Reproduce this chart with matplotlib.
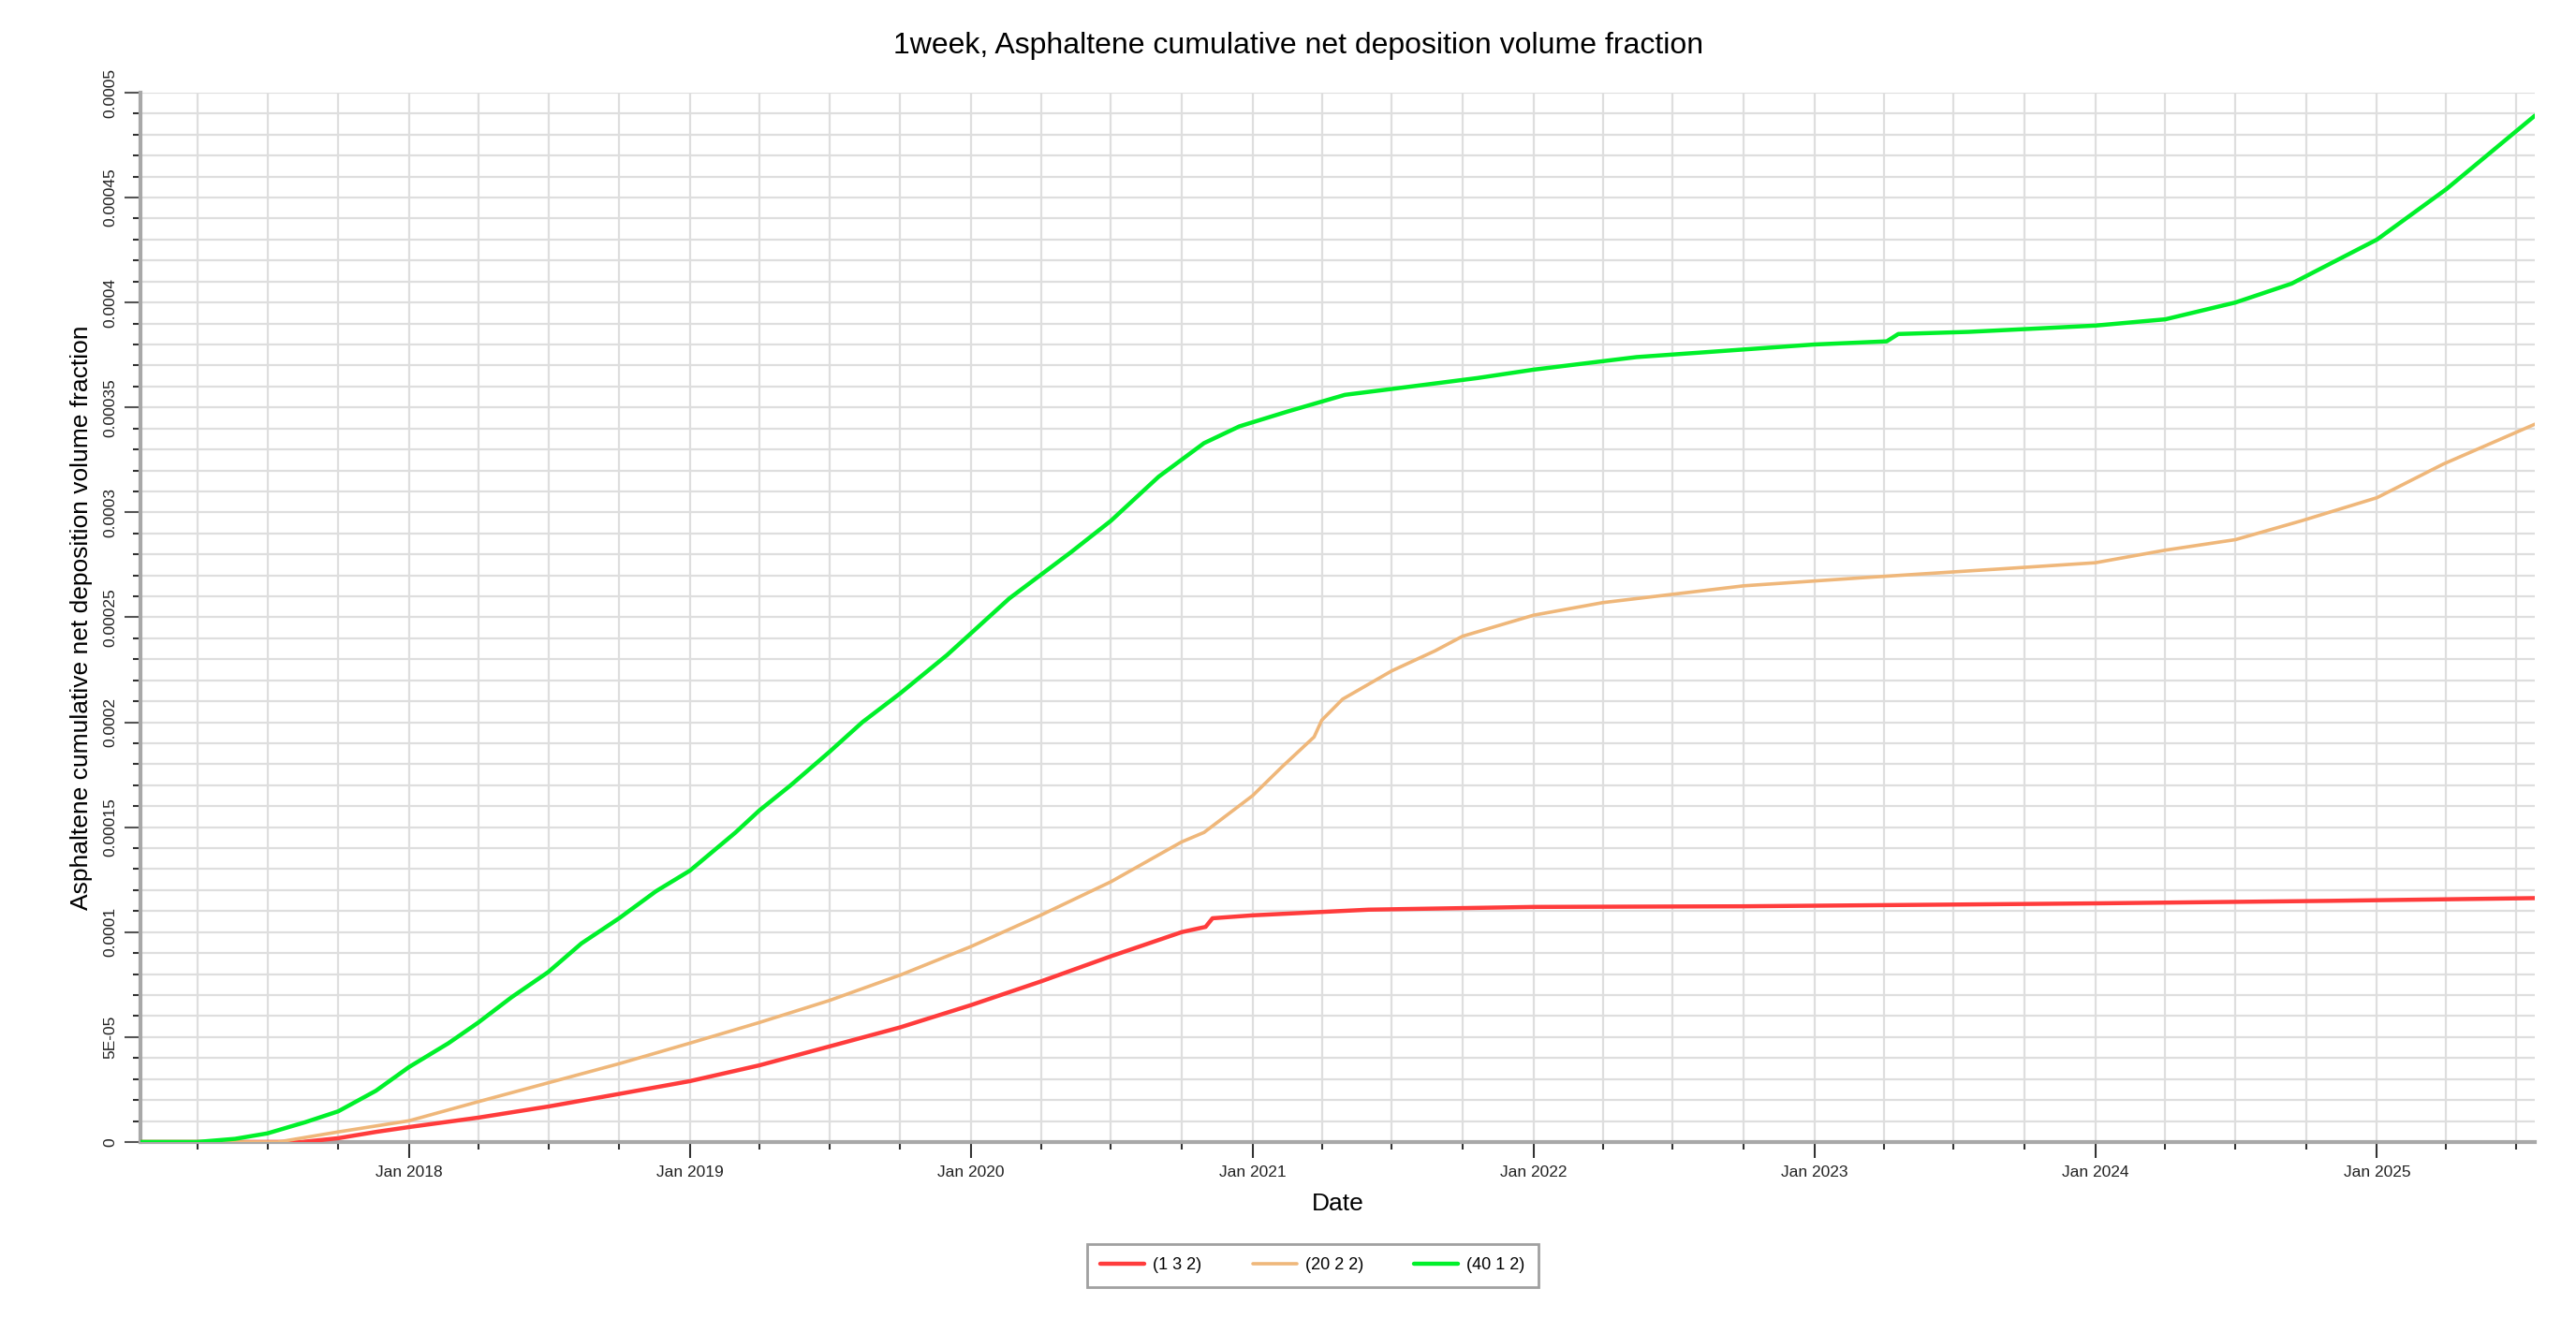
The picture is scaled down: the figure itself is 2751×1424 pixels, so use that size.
import numpy as np
import pandas as pd
import matplotlib
matplotlib.use("Agg")
import matplotlib.pyplot as plt
import matplotlib.dates as mdates
from matplotlib.ticker import MultipleLocator, FixedLocator, FixedFormatter

plt.rcParams['font.family'] = ['Liberation Sans', 'DejaVu Sans']

# values in units of 1E-05
green_dates = ["2017-01-17", "2017-04-01", "2017-05-20", "2017-07-01", "2017-08-19", "2017-10-01",
               "2017-11-19", "2018-01-01", "2018-02-21", "2018-04-01", "2018-05-14", "2018-07-01",
               "2018-08-13", "2018-10-01", "2018-11-18", "2019-01-01", "2019-03-01", "2019-04-01",
               "2019-05-12", "2019-07-01", "2019-08-13", "2019-10-01", "2019-12-01", "2020-02-20",
               "2020-05-10", "2020-07-01", "2020-09-01", "2020-10-30", "2020-12-15", "2021-02-15",
               "2021-05-01", "2021-07-05", "2021-10-20", "2022-01-01", "2022-05-15", "2023-01-01",
               "2023-04-05", "2023-04-20", "2023-07-20", "2024-01-01", "2024-04-01", "2024-07-01",
               "2024-09-12", "2025-01-01", "2025-04-01", "2025-07-25"]
green_vals = [0, 0, 0.15, 0.41, 0.94, 1.46,
              2.44, 3.57, 4.7, 5.69, 6.89, 8.1,
              9.46, 10.66, 11.95, 12.93, 14.74, 15.79,
              17.0, 18.58, 20.0, 21.37, 23.2, 25.9,
              28.1, 29.6, 31.7, 33.3, 34.1, 34.8,
              35.6, 35.9, 36.4, 36.8, 37.4, 38.0,
              38.15, 38.5, 38.6, 38.9, 39.2, 40.0,
              40.9, 43.0, 45.4, 48.9]

orange_dates = ["2017-01-17", "2017-07-15", "2017-10-01", "2018-01-01", "2018-04-01", "2018-07-01",
                "2018-10-01", "2019-01-01", "2019-04-01", "2019-07-01", "2019-10-01", "2020-01-01",
                "2020-04-01", "2020-07-01", "2020-10-01", "2020-10-30", "2021-01-01", "2021-02-09",
                "2021-03-22", "2021-04-01", "2021-04-28", "2021-07-01", "2021-08-26", "2021-10-01",
                "2022-01-01", "2022-04-01", "2022-10-01", "2023-03-10", "2023-08-28", "2024-01-01",
                "2024-04-01", "2024-07-01", "2024-09-25", "2025-01-01", "2025-03-28", "2025-07-25"]
orange_vals = [0, 0, 0.48, 1.01, 1.92, 2.82,
               3.73, 4.71, 5.69, 6.74, 7.95, 9.31,
               10.81, 12.4, 14.3, 14.75, 16.5, 17.9,
               19.3, 20.1, 21.1, 22.45, 23.4, 24.1,
               25.1, 25.7, 26.5, 26.9, 27.3, 27.6,
               28.2, 28.7, 29.6, 30.7, 32.3, 34.2]

red_dates = ["2017-01-17", "2017-08-15", "2017-10-01", "2017-11-19", "2018-01-01", "2018-04-01",
             "2018-07-01", "2018-10-01", "2019-01-01", "2019-04-01", "2019-07-01", "2019-10-01",
             "2020-01-01", "2020-04-01", "2020-07-01", "2020-10-01", "2020-11-01", "2020-11-10",
             "2021-01-01", "2021-06-01", "2022-01-01", "2022-10-01", "2024-01-01", "2024-11-01",
             "2025-07-25"]
red_vals = [0, 0, 0.18, 0.48, 0.71, 1.16,
            1.69, 2.29, 2.9, 3.65, 4.55, 5.46,
            6.52, 7.65, 8.85, 10.0, 10.25, 10.66,
            10.8, 11.07, 11.2, 11.23, 11.37, 11.49,
            11.62]

labels = ["(1 3 2)", "(20 2 2)", "(40 1 2)"]
colors = ["#ff3c3c", "#efb77a", "#00f02a"]

ytick_vals = [0, 5e-05, 0.0001, 0.00015, 0.0002, 0.00025, 0.0003, 0.00035, 0.0004, 0.00045, 0.0005]
ytick_labels = ["0", "5E-05", "0.0001", "0.00015", "0.0002", "0.00025", "0.0003",
                "0.00035", "0.0004", "0.00045", "0.0005"]

fig = plt.figure(figsize=(27.51, 14.24), dpi=100)
ax = fig.add_axes([0.0545, 0.1433, 0.9295, 0.7872])

series = [(red_dates, red_vals), (orange_dates, orange_vals), (green_dates, green_vals)]
for (d, v), lab, c in zip(series, labels, colors):
    ax.plot(pd.to_datetime(d), np.array(v) * 1e-5, color=c, lw=3.2 if c != colors[1] else 2.6,
            label=lab, solid_capstyle='round', zorder=3)

ax.set_xlim(pd.Timestamp("2017-01-17"), pd.Timestamp("2025-07-25"))
ax.set_ylim(0, 0.0005)

ax.xaxis.set_major_locator(mdates.YearLocator())
ax.xaxis.set_major_formatter(mdates.DateFormatter("Jan %Y"))
ax.xaxis.set_minor_locator(mdates.MonthLocator(bymonth=[4, 7, 10]))
ax.yaxis.set_major_locator(FixedLocator(ytick_vals))
ax.yaxis.set_major_formatter(FixedFormatter(ytick_labels))
ax.yaxis.set_minor_locator(MultipleLocator(1e-05))

ax.grid(which='both', axis='both', color='#dedede', lw=1.6, zorder=0)
ax.tick_params(axis='x', which='major', length=12, width=1.5, color='#333333',
               labelsize=12.5, pad=6)
ax.tick_params(axis='x', which='minor', length=6, width=1.5, color='#333333')
ax.tick_params(axis='y', which='major', length=12, width=1.5, color='#555555',
               labelsize=12.5, pad=6, labelrotation=90)
ax.tick_params(axis='y', which='minor', length=6, width=1.5, color='#333333')
for t in ax.get_yticklabels():
    t.set_va('center')
for t in ax.get_xticklabels() + ax.get_yticklabels():
    t.set_family(['Liberation Sans Narrow', 'Liberation Sans'])
    t.set_color('#222222')

for s in ['top', 'right']:
    ax.spines[s].set_visible(False)
for s in ['left', 'bottom']:
    ax.spines[s].set_color('#a8a8a8')
    ax.spines[s].set_linewidth(3)

ax.set_xlabel("Date", fontsize=19, labelpad=10)
ax.set_ylabel("Asphaltene cumulative net deposition volume fraction", fontsize=19, labelpad=8)
fig.suptitle("1week, Asphaltene cumulative net deposition volume fraction", fontsize=23,
             x=0.504, y=0.9656, va='center')

leg = fig.legend(loc='center', bbox_to_anchor=(0.5096, 0.0506), ncol=3, fontsize=13,
                 frameon=True, fancybox=False, edgecolor='#888888', handlelength=2.6,
                 columnspacing=3.0, handletextpad=0.5, borderpad=0.8)
leg.get_frame().set_linewidth(2)

fig.savefig("out.png", dpi=100)
